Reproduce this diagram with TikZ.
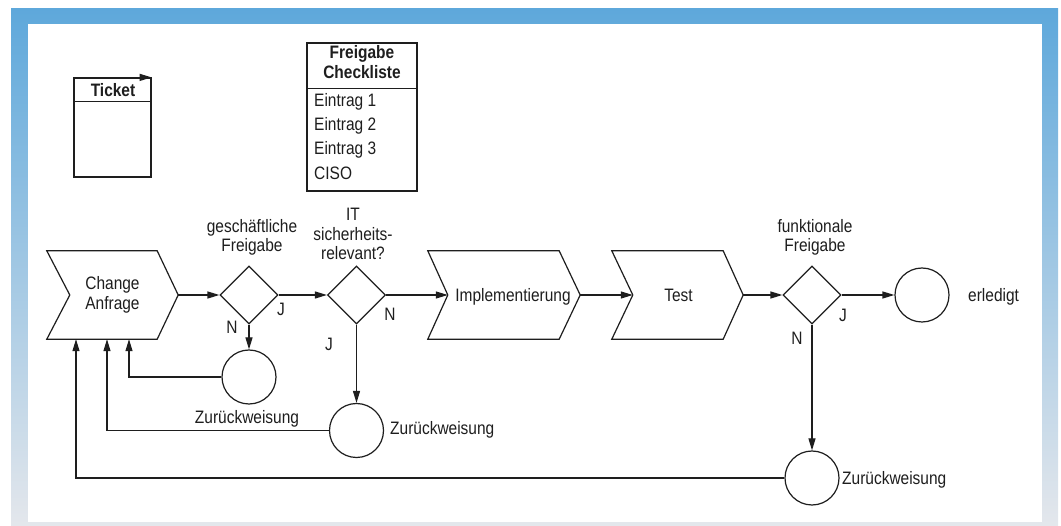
\documentclass[tikz,border=0pt]{standalone}
\usepackage{fontspec}
\setmainfont{Liberation Sans}[FakeStretch=0.86]
\usetikzlibrary{arrows.meta,shapes.geometric,calc}
\definecolor{bandtop}{RGB}{94,168,219}
\definecolor{bandbot}{RGB}{228,231,236}
\definecolor{ink}{RGB}{30,30,30}
\newcommand{\chevron}[3]{%
  \draw[line] (#1.north west) -- ([xshift=-#3pt]#1.north east) -- (#1.east)
    -- ([xshift=-#3pt]#1.south east) -- (#1.south west) -- ([xshift=#2pt]#1.west) -- cycle;}
\begin{document}
\begin{tikzpicture}[x=1pt,y=-1pt,
  every node/.style={font=\fontsize{18}{19.5}\selectfont, text=ink},
  line/.style={draw=ink, line width=1.2pt},
  arr/.style={line, -{Triangle[length=12pt,width=7pt]}},
  dec/.style={shape=diamond, line, minimum width=58, minimum height=58, inner sep=0pt},
  circ/.style={shape=circle, line, minimum size=54, inner sep=0pt},
  chevbox/.style={minimum height=88, inner sep=0pt, align=center},
  lbl/.style={anchor=base, inner sep=0pt},
  ml/.style={align=center, inner sep=0pt, anchor=base},
  bold/.style={font=\fontsize{18}{20}\selectfont\bfseries},
]
\useasboundingbox (0,0) rectangle (1061,526);
\shade[top color=bandtop, bottom color=bandbot] (11,9) rectangle (1058,526);
\fill[white] (28,24) rectangle (1042,522);

% Ticket
\node[line, minimum width=77, minimum height=99, inner sep=0pt] (tk) at (112.5,127.5) {};
\draw[line] ([yshift=-24pt]tk.north west) -- ([yshift=-24pt]tk.north east);
\draw[arr] (tk.north west) -- (tk.north east);
\node[lbl, bold] (tkt) at (113,97) {Ticket};

% Checkliste
\node[line, minimum width=110, minimum height=148, inner sep=0pt] (cl) at (362,117) {};
\draw[line] ([yshift=-46pt]cl.north west) -- ([yshift=-46pt]cl.north east);
\node[ml, bold] (clh) at (362,79) {Freigabe\\Checkliste};
\node[lbl, anchor=base west] (e1) at (314,107) {Eintrag 1};
\node[lbl, anchor=base west] (e2) at (314,131) {Eintrag 2};
\node[lbl, anchor=base west] (e3) at (314,155) {Eintrag 3};
\node[lbl, anchor=base west] (e4) at (314,180) {CISO};

% process shapes
\node[chevbox, minimum width=131] (ca) at (112.5,295) {Change\\Anfrage};
\chevron{ca}{23}{21}
\node[chevbox, minimum width=152] (im) at (504,295) {};
\chevron{im}{20}{21}
\node[lbl] (imt) at (513,302) {Implementierung};
\node[chevbox, minimum width=131] (te) at (677.5,295) {};
\chevron{te}{21}{20}
\node[lbl] (tet) at (678.5,302) {Test};

% decisions
\node[dec] (d1) at (249,295) {};
\node[dec] (d2) at (356.5,295) {};
\node[dec] (d3) at (812,295) {};
\node[ml] (d1l) at (252,252) {geschäftliche\\Freigabe};
\node[ml] (d2l) at (353,260) {IT\\sicherheits-\\relevant?};
\node[ml] (d3l) at (815,252) {funktionale\\Freigabe};

% circles
\node[circ] (c1) at (249,377) {};
\node[circ] (c2) at (356.5,430.5) {};
\node[circ] (c3) at (812,478) {};
\node[circ] (ce) at (922,295) {};
\node[lbl] (c1l) at (247,424) {Zurückweisung};
\node[lbl, anchor=base west] (c2l) at (390,435) {Zurückweisung};
\node[lbl, anchor=base west] (c3l) at (842,485) {Zurückweisung};
\node[lbl, anchor=base west] (cel) at (968,302) {erledigt};

% J / N labels
\node[lbl] (j1) at (281,316) {J};
\node[lbl] (n1) at (232,334) {N};
\node[lbl] (n2) at (390,321) {N};
\node[lbl] (j2) at (329,351) {J};
\node[lbl] (j3) at (843,322) {J};
\node[lbl] (n3) at (797,345) {N};

% connectors
\draw[arr] (ca.east) -- (d1.west);
\draw[arr] (d1.east) -- (d2.west);
\draw[arr] (d2.east) -- ([xshift=20pt]im.west);
\draw[arr] (im.east) -- ([xshift=21pt]te.west);
\draw[arr] (te.east) -- (d3.west);
\draw[arr] (d3.east) -- (ce.west);
\draw[arr] (d1.south) -- (c1.north);
\draw[arr] (d2.south) -- (c2.north);
\draw[arr] (d3.south) -- (c3.north);
\draw[arr] (c1.west) -| ([xshift=16.5pt]ca.south);
\draw[arr] (c2.west) -| ([xshift=-5.5pt]ca.south);
\draw[arr] (c3.west) -| ([xshift=-36.5pt]ca.south);
\end{tikzpicture}
\end{document}
